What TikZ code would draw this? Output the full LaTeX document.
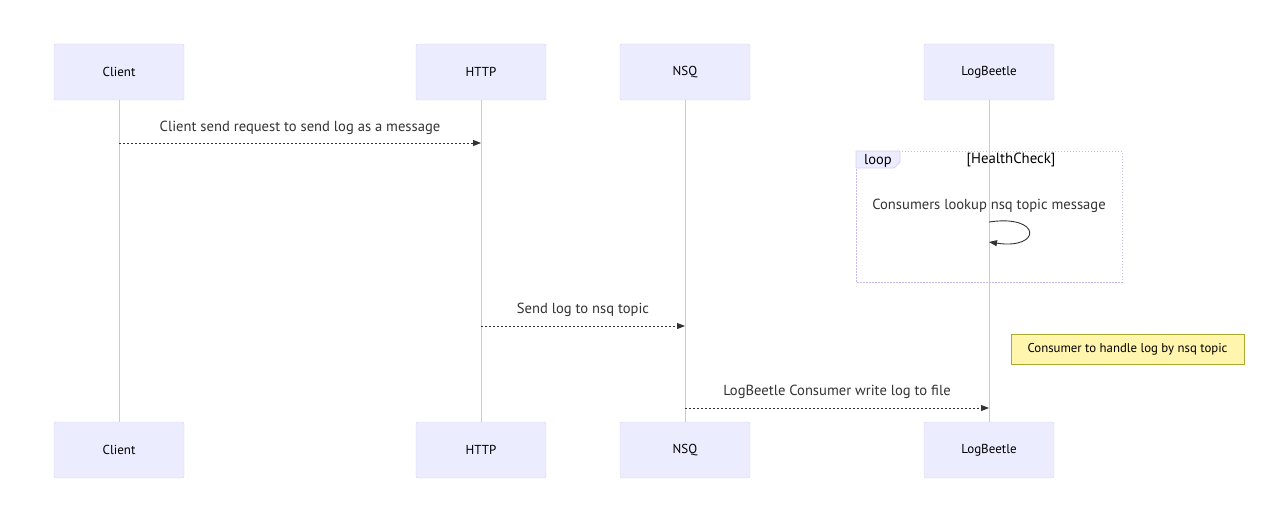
\documentclass[tikz,border=0pt]{standalone}
\usepackage{fontspec}
\setmainfont{PT Sans}
\usetikzlibrary{arrows.meta}
\definecolor{actorfill}{HTML}{ECECFF}
\definecolor{actorline}{HTML}{DACEF2}
\definecolor{loopline}{HTML}{C6B9F0}
\definecolor{notefill}{HTML}{FFF5AD}
\definecolor{noteline}{HTML}{AAAA33}
\definecolor{msgline}{HTML}{333333}
\begin{document}
\begin{tikzpicture}[x=1pt,y=-1pt,
  actor/.style={rectangle,draw=actorline,fill=actorfill,rounded corners=2pt,
    minimum width=130pt,minimum height=56pt,font=\fontsize{13}{15}\selectfont},
  lifeline/.style={draw=gray!40,line width=0.7pt},
  message/.style={draw=msgline,dash pattern=on 2pt off 2pt,line width=0.9pt,
    -{Triangle[length=8pt,width=6pt]}},
  msglabel/.style={text=msgline,font=\fontsize{14.6}{18}\selectfont},
  loopframe/.style={draw=loopline,dash pattern=on 1.5pt off 1.5pt,line width=1pt},
  notebox/.style={rectangle,draw=noteline,fill=notefill,minimum width=233pt,
    minimum height=30pt,font=\fontsize{12.8}{15}\selectfont}]
  \useasboundingbox (0,0) rectangle (1275,531);
  % actors, top and bottom
  \node[actor] (client) at (119,72) {Client};
  \node[actor] (http) at (481,72) {HTTP};
  \node[actor] (nsq) at (685,72) {NSQ};
  \node[actor] (logbeetle) at (989,72) {LogBeetle};
  \node[actor] (clientb) at (119,450) {Client};
  \node[actor] (httpb) at (481,450) {HTTP};
  \node[actor] (nsqb) at (685,450) {NSQ};
  \node[actor] (logbeetleb) at (989,450) {LogBeetle};
  % lifelines
  \draw[lifeline] (client) -- (clientb);
  \draw[lifeline] (http) -- (httpb);
  \draw[lifeline] (nsq) -- (nsqb);
  \draw[lifeline] (logbeetle) -- (logbeetleb);
  % loop
  \draw[loopframe] (856,151) rectangle (1122,282);
  \filldraw[fill=actorfill,draw=actorline,line width=0.8pt]
    (856,151) -- (900,151) -- (900,162) -- (894,168) -- (856,168) -- cycle;
  \node[font=\fontsize{14.5}{16}\selectfont] (looplabel) at (878,161) {loop};
  \node[font=\fontsize{14.8}{16}\selectfont] (loopcond) at (1011,160) {[HealthCheck]};
  \node[msglabel] (selflabel) at (989,206) {Consumers lookup nsq topic message};
  \coordinate (selfa) at (logbeetle |- 0,222);
  \coordinate (selfb) at (logbeetle |- 0,242);
  \draw[msgline,line width=0.9pt,-{Triangle[length=8pt,width=6pt]}]
    (selfa) .. controls (1042,214) and (1042,250) .. (selfb);
  % messages
  \coordinate (m1a) at (client |- 0,143);
  \coordinate (m1b) at (http |- 0,143);
  \draw[message] (m1a) -- (m1b) node[msglabel,midway,above=5pt] {Client send request to send log as a message};
  \coordinate (m2a) at (http |- 0,326);
  \coordinate (m2b) at (nsq |- 0,326);
  \draw[message] (m2a) -- (m2b) node[msglabel,midway,above=6pt] {Send log to nsq topic};
  \node[notebox] (note) at (1127.5,349) {Consumer to handle log by nsq topic};
  \coordinate (m3a) at (nsq |- 0,408);
  \coordinate (m3b) at (logbeetle |- 0,408);
  \draw[message] (m3a) -- (m3b) node[msglabel,midway,above=6pt] {LogBeetle Consumer write log to file};
\end{tikzpicture}
\end{document}
